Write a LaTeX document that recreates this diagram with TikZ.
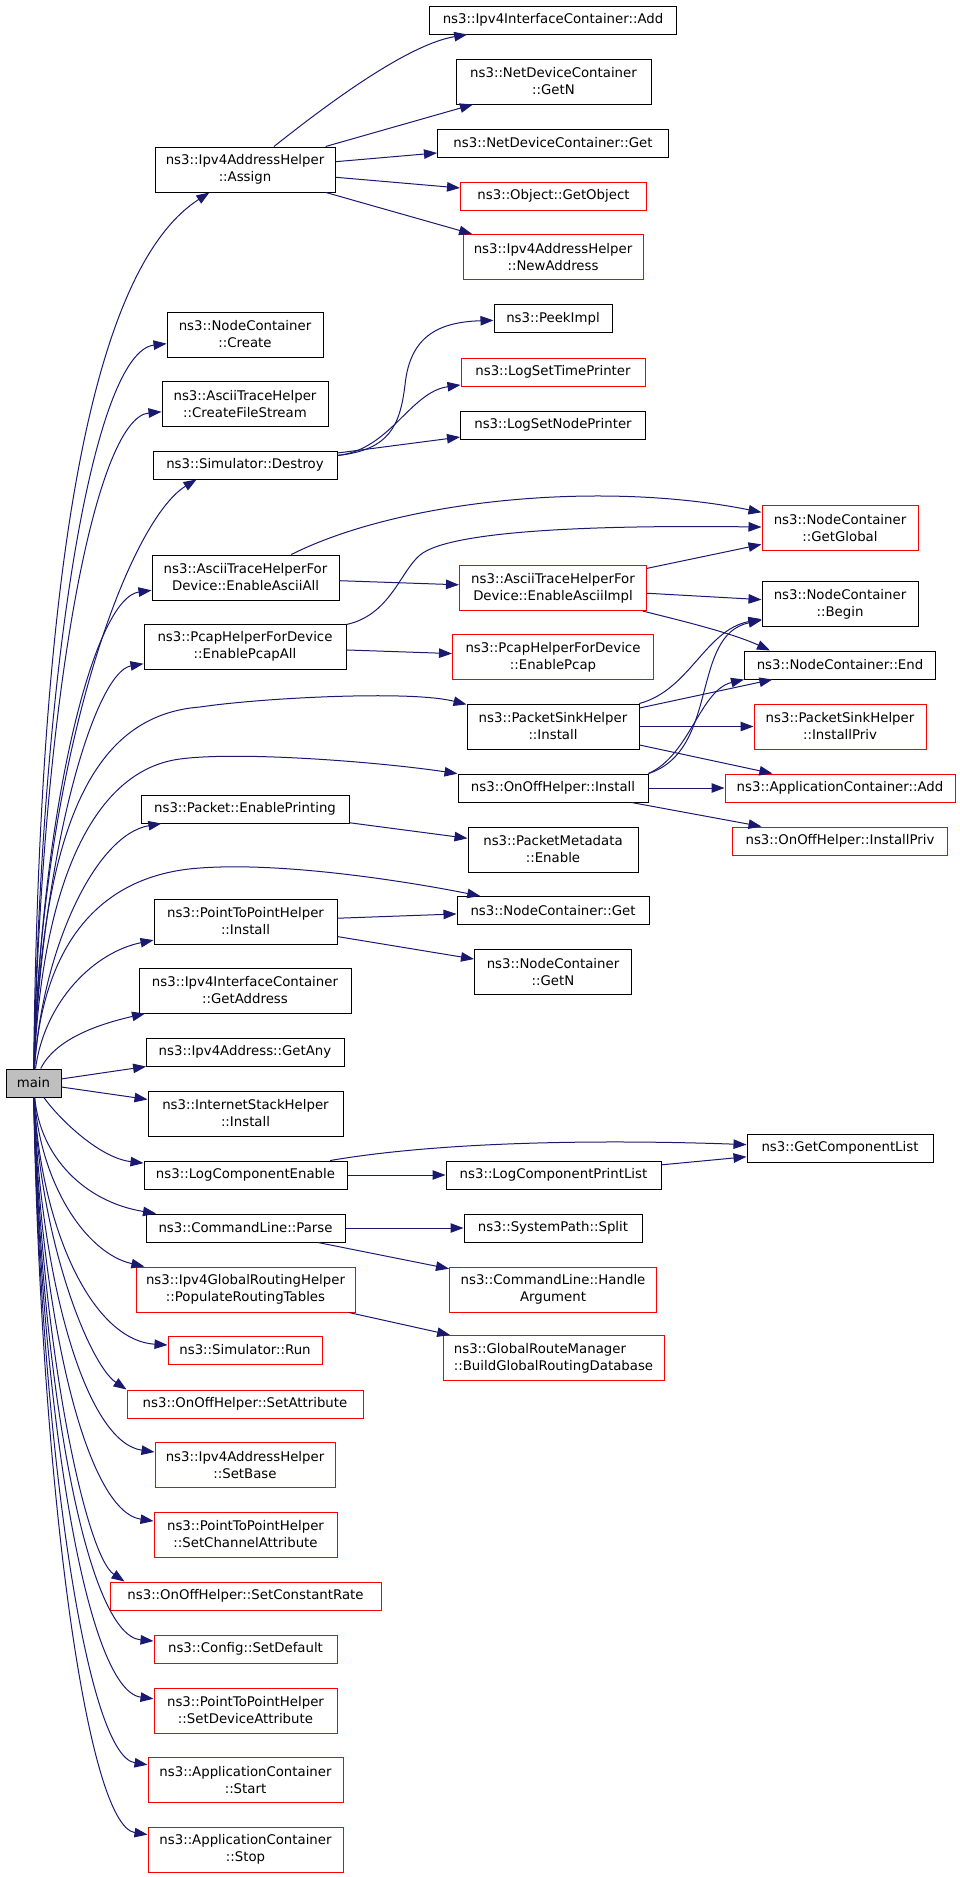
\documentclass[tikz,border=0pt]{standalone}
\usepackage{fontspec}
\setmainfont{DejaVu Sans}
\usetikzlibrary{arrows.meta}
\definecolor{edgeblue}{RGB}{25,25,112}
\definecolor{grey75}{RGB}{191,191,191}

\begin{document}
\begin{tikzpicture}[x=1pt, y=-1pt,
	fnbox/.style={draw=black, line width=1pt, fill=white, align=center, inner sep=0pt, font=\fontsize{13.3}{17}\selectfont},
	fnred/.style={fnbox, draw=red},
	sgl/.style={minimum height=28pt},
	dbl/.style={minimum height=45pt},
	call/.style={draw=edgeblue, line width=1pt, -{Triangle[length=13pt, width=9.5pt]}}]
	\useasboundingbox (0,0) rectangle (960,1877);
	\node[fnbox, sgl, fill=grey75, minimum width=55] (main) at (33.5,1083) {main};
	\node[fnbox, dbl, minimum width=180] (assign) at (245,169.5) {ns3::Ipv4AddressHelper\\::Assign};
	\node[fnbox, dbl, minimum width=156] (create) at (245,334.5) {ns3::NodeContainer\\::Create};
	\node[fnbox, dbl, minimum width=166] (filestream) at (245,404) {ns3::AsciiTraceHelper\\::CreateFileStream};
	\node[fnbox, sgl, minimum width=184] (destroy) at (245,465) {ns3::Simulator::Destroy};
	\node[fnbox, dbl, minimum width=187] (asciiall) at (245.5,577.5) {ns3::AsciiTraceHelperFor\\Device::EnableAsciiAll};
	\node[fnbox, dbl, minimum width=202] (pcapall) at (245,646.5) {ns3::PcapHelperForDevice\\::EnablePcapAll};
	\node[fnbox, sgl, minimum width=208] (printing) at (245,809) {ns3::Packet::EnablePrinting};
	\node[fnbox, dbl, minimum width=183] (p2pinstall) at (245.5,921.5) {ns3::PointToPointHelper\\::Install};
	\node[fnbox, dbl, minimum width=212] (getaddress) at (245,990.5) {ns3::Ipv4InterfaceContainer\\::GetAddress};
	\node[fnbox, sgl, minimum width=198] (getany) at (245,1052) {ns3::Ipv4Address::GetAny};
	\node[fnbox, dbl, minimum width=195] (stackinstall) at (245.5,1113.5) {ns3::InternetStackHelper\\::Install};
	\node[fnbox, sgl, minimum width=203] (logenable) at (245.5,1175) {ns3::LogComponentEnable};
	\node[fnbox, sgl, minimum width=199] (parse) at (245.5,1228) {ns3::CommandLine::Parse};
	\node[fnred, dbl, minimum width=219] (populate) at (245.5,1289.5) {ns3::Ipv4GlobalRoutingHelper\\::PopulateRoutingTables};
	\node[fnred, sgl, minimum width=154] (run) at (245,1350) {ns3::Simulator::Run};
	\node[fnred, sgl, minimum width=236] (setattr) at (245,1404) {ns3::OnOffHelper::SetAttribute};
	\node[fnred, dbl, minimum width=180] (setbase) at (245,1465) {ns3::Ipv4AddressHelper\\::SetBase};
	\node[fnred, dbl, minimum width=183] (setchannel) at (245.5,1534.5) {ns3::PointToPointHelper\\::SetChannelAttribute};
	\node[fnred, sgl, minimum width=271] (setrate) at (245.5,1596) {ns3::OnOffHelper::SetConstantRate};
	\node[fnred, sgl, minimum width=183] (setdefault) at (245.5,1649) {ns3::Config::SetDefault};
	\node[fnred, dbl, minimum width=183] (setdevice) at (245.5,1710.5) {ns3::PointToPointHelper\\::SetDeviceAttribute};
	\node[fnred, dbl, minimum width=195] (appstart) at (245.5,1780) {ns3::ApplicationContainer\\::Start};
	\node[fnred, dbl, minimum width=195] (appstop) at (245.5,1849.5) {ns3::ApplicationContainer\\::Stop};
	\node[fnbox, sgl, minimum width=247] (ifadd) at (553,20) {ns3::Ipv4InterfaceContainer::Add};
	\node[fnbox, dbl, minimum width=195] (devgetn) at (553.5,81.5) {ns3::NetDeviceContainer\\::GetN};
	\node[fnbox, sgl, minimum width=231] (devget) at (553,143) {ns3::NetDeviceContainer::Get};
	\node[fnred, sgl, minimum width=186] (getobject) at (553.5,196) {ns3::Object::GetObject};
	\node[fnred, dbl, minimum width=180] (newaddress) at (553,257) {ns3::Ipv4AddressHelper\\::NewAddress};
	\node[fnbox, sgl, minimum width=118] (peekimpl) at (553,318.5) {ns3::PeekImpl};
	\node[fnred, sgl, minimum width=184] (timeprinter) at (553,372) {ns3::LogSetTimePrinter};
	\node[fnbox, sgl, minimum width=185] (nodeprinter) at (553,425) {ns3::LogSetNodePrinter};
	\node[fnred, dbl, minimum width=187] (asciiimpl) at (553,588) {ns3::AsciiTraceHelperFor\\Device::EnableAsciiImpl};
	\node[fnred, dbl, minimum width=201] (enablepcap) at (553,657) {ns3::PcapHelperForDevice\\::EnablePcap};
	\node[fnbox, dbl, minimum width=172] (sinkinstall) at (553,726.5) {ns3::PacketSinkHelper\\::Install};
	\node[fnbox, sgl, minimum width=190] (onoffinstall) at (553,788) {ns3::OnOffHelper::Install};
	\node[fnbox, dbl, minimum width=170] (metaenable) at (553,849.5) {ns3::PacketMetadata\\::Enable};
	\node[fnbox, sgl, minimum width=192] (ncget) at (553,910.5) {ns3::NodeContainer::Get};
	\node[fnbox, dbl, minimum width=157] (ncgetn) at (553,972) {ns3::NodeContainer\\::GetN};
	\node[fnbox, sgl, minimum width=215] (printlist) at (553.5,1175) {ns3::LogComponentPrintList};
	\node[fnbox, sgl, minimum width=178] (pathsplit) at (553,1228) {ns3::SystemPath::Split};
	\node[fnred, dbl, minimum width=207] (handlearg) at (553,1289.5) {ns3::CommandLine::Handle\\Argument};
	\node[fnred, dbl, minimum width=221, align=left] (buildgrd) at (553.5,1358) {ns3::GlobalRouteManager\\::BuildGlobalRoutingDatabase};
	\node[fnred, dbl, minimum width=156] (getglobal) at (840,528) {ns3::NodeContainer\\::GetGlobal};
	\node[fnbox, dbl, minimum width=156] (ncbegin) at (840,604) {ns3::NodeContainer\\::Begin};
	\node[fnbox, sgl, minimum width=191] (ncend) at (840,665) {ns3::NodeContainer::End};
	\node[fnred, dbl, minimum width=172] (sinkpriv) at (840,726.5) {ns3::PacketSinkHelper\\::InstallPriv};
	\node[fnred, sgl, minimum width=230] (appadd) at (840,788) {ns3::ApplicationContainer::Add};
	\node[fnred, sgl, minimum width=215] (onoffpriv) at (840,841) {ns3::OnOffHelper::InstallPriv};
	\node[fnbox, sgl, minimum width=186] (complist) at (840,1148) {ns3::GetComponentList};
	\draw[call] (main) .. controls (40,500) and (105,260) .. (assign);
	\draw[call] (main) .. controls (42,650) and (95,352) .. (create);
	\draw[call] (main) .. controls (42,700) and (95,418) .. (filestream);
	\draw[call] (main) .. controls (42,750) and (130,520) .. ([xshift=44pt]destroy.south west);
	\draw[call] (main) .. controls (42,800) and (95,598) .. (asciiall);
	\draw[call] (main) .. controls (42,850) and (95,672) .. (pcapall);
	\draw[call] (main) .. controls (42,820) and (95,715) .. (200,707) .. controls (260,698) and (410,690) .. (sinkinstall);
	\draw[call] (main) .. controls (42,880) and (95,770) .. (180,759) .. controls (240,751) and (380,762) .. (onoffinstall);
	\draw[call] (main) .. controls (42,950) and (95,835) .. (printing);
	\draw[call] (main) .. controls (42,950) and (95,875) .. (200,868) .. controls (280,862) and (400,880) .. (ncget);
	\draw[call] (main) .. controls (45,1000) and (95,952) .. (p2pinstall);
	\draw[call] (main) .. controls (55,1040) and (95,1025) .. (getaddress);
	\draw[call] (main) -- (getany);
	\draw[call] (main) -- (stackinstall);
	\draw[call] (main) .. controls (60,1120) and (100,1158) .. (logenable);
	\draw[call] (main) .. controls (40,1157) and (85,1202) .. (parse);
	\draw[call] (main) .. controls (40,1182) and (85,1253) .. (populate);
	\draw[call] (main) .. controls (40,1223) and (90,1340) .. (run);
	\draw[call] (main) .. controls (40,1243) and (90,1365) .. (setattr.north west);
	\draw[call] (main) .. controls (40,1277) and (85,1442) .. (setbase);
	\draw[call] (main) .. controls (40,1311) and (85,1511) .. (setchannel);
	\draw[call] (main) .. controls (40,1340) and (85,1555) .. ([xshift=15pt]setrate.north west);
	\draw[call] (main) .. controls (40,1372) and (85,1635) .. (setdefault);
	\draw[call] (main) .. controls (40,1400) and (85,1690) .. (setdevice);
	\draw[call] (main) .. controls (40,1433) and (85,1755) .. (appstart);
	\draw[call] (main) .. controls (40,1468) and (85,1825) .. (appstop);
	\draw[call] (assign) .. controls (320,110) and (405,45) .. (ifadd);
	\draw[call] (assign) -- (devgetn);
	\draw[call] (assign) -- (devget);
	\draw[call] (assign) -- (getobject);
	\draw[call] (assign) -- (newaddress);
	\draw[call] (destroy) .. controls (390,450) and (400,425) .. (405,385) .. controls (410,335) and (440,322) .. (peekimpl);
	\draw[call] (destroy) .. controls (390,450) and (410,392) .. (timeprinter);
	\draw[call] (destroy) -- (nodeprinter);
	\draw[call] (asciiall) .. controls (400,500) and (600,480) .. (getglobal);
	\draw[call] (asciiall) -- (asciiimpl);
	\draw[call] (pcapall) .. controls (390,615) and (400,572) .. (420,555) .. controls (450,530) and (600,525) .. (getglobal);
	\draw[call] (pcapall) -- (enablepcap);
	\draw[call] (asciiimpl) -- (getglobal);
	\draw[call] (asciiimpl) -- (ncbegin);
	\draw[call] (asciiimpl) .. controls (670,618) and (730,632) .. ([xshift=26pt]ncend.north west);
	\draw[call] (sinkinstall) .. controls (690,690) and (705,630) .. (ncbegin);
	\draw[call] (sinkinstall) -- (ncend);
	\draw[call] (sinkinstall) -- (sinkpriv);
	\draw[call] (sinkinstall) -- (appadd);
	\draw[call] (onoffinstall.north east) .. controls (720,750) and (690,635) .. (ncbegin);
	\draw[call] (onoffinstall.north east) .. controls (690,755) and (700,690) .. (ncend.south west);
	\draw[call] (onoffinstall) -- (appadd);
	\draw[call] (onoffinstall) -- (onoffpriv);
	\draw[call] (printing) -- (metaenable);
	\draw[call] (p2pinstall) -- (ncget);
	\draw[call] (p2pinstall) -- (ncgetn);
	\draw[call] (logenable) .. controls (450,1140) and (620,1140) .. (complist);
	\draw[call] (logenable) -- (printlist);
	\draw[call] (printlist) -- (complist);
	\draw[call] (parse) -- (pathsplit);
	\draw[call] (parse) -- (handlearg);
	\draw[call] (populate) -- (buildgrd);
\end{tikzpicture}
\end{document}
